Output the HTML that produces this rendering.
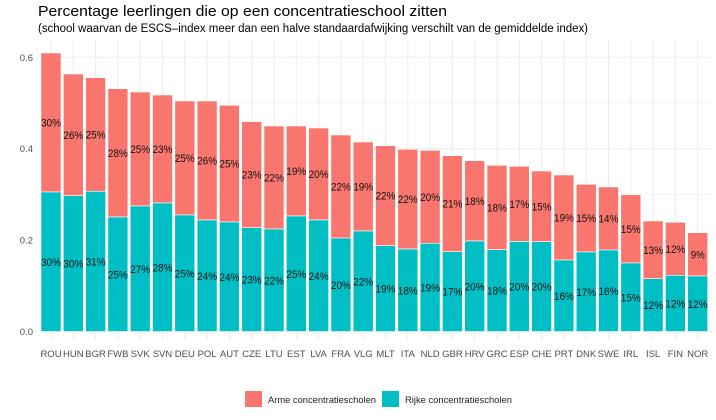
<!DOCTYPE html>
<html><head><meta charset="utf-8"><style>html,body{margin:0;padding:0;background:#fff}svg{display:block}text{font-family:"Liberation Sans",Arial,sans-serif}</style></head>
<body>
<svg id="s" width="716" height="420" xmlns="http://www.w3.org/2000/svg">
<text x="38" y="16" font-size="14.5" fill="#000" textLength="409" lengthAdjust="spacingAndGlyphs">Percentage leerlingen die op een concentratieschool zitten</text>
<text x="38" y="32" font-size="11.5" fill="#000" textLength="550" lengthAdjust="spacingAndGlyphs">(school waarvan de ESCS–index meer dan een halve standaardafwijking verschilt van de gemiddelde index)</text>
<g id="g"></g>
<rect x="245" y="391" width="17" height="16" fill="#F8766D"/>
<text x="268" y="403" font-size="9.5" fill="#222" textLength="108" lengthAdjust="spacingAndGlyphs">Arme concentratiescholen</text>
<rect x="382" y="391" width="17" height="16" fill="#00BFC4"/>
<text x="405" y="403" font-size="9.5" fill="#222" textLength="107" lengthAdjust="spacingAndGlyphs">Rijke concentratiescholen</text>
</svg>
<script>
var d=[["ROU",53,192,30,30],["HUN",74,195.7,26,30],["BGR",77.7,191.3,25,31],["FWB",88.7,217,28,25],["SVK",92,206,25,27],["SVN",95,203,23,28],["DEU",101,215,25,25],["POL",101,220,26,24],["AUT",105.3,222,25,24],["CZE",121.7,227.7,23,23],["LTU",126,229,22,22],["EST",126,216,19,25],["LVA",128,220,20,24],["FRA",135,238,22,20],["VLG",142,231,19,22],["MLT",145.7,245.7,22,19],["ITA",149.3,249,22,18],["NLD",150.3,243.3,20,19],["GBR",155.7,251.7,21,17],["HRV",160.7,241,18,20],["GRC",165.3,249.7,18,18],["ESP",166.3,241.5,17,20],["CHE",171,241.7,15,20],["PRT",175,260,19,16],["DNK",184.3,252,15,17],["SWE",187,250,14,18],["IRL",194.7,263,15,15],["ISL",221,278.7,13,12],["FIN",222.3,275.3,12,12],["NOR",232.7,276,9,12]];
var h='',y0=331.5,k=457;
for(var v=0;v<=0.65;v+=0.1){var y=y0-v*k;var maj=Math.round(v*10)%2==0;h+='<line x1="40" x2="712" y1="'+y+'" y2="'+y+'" stroke="#ebebeb" stroke-width="'+(maj?1:0.5)+'"/>';if(maj)h+='<text x="33" y="'+(y+3.5)+'" font-size="9.5" fill="#4d4d4d" text-anchor="end">'+v.toFixed(1)+'</text>';}
d.forEach(function(r,i){var cx=51+22.3*i;h+='<line x1="'+cx+'" x2="'+cx+'" y1="40" y2="340" stroke="#ebebeb"/>';});
d.forEach(function(r,i){var cx=51+22.3*i,x=cx-10;
h+='<rect x="'+x+'" y="'+r[1]+'" width="20" height="'+(r[2]-r[1])+'" fill="#F8766D" stroke="#fff" stroke-width="0.6"/>';
h+='<rect x="'+x+'" y="'+r[2]+'" width="20" height="'+(y0-r[2])+'" fill="#00BFC4" stroke="#fff" stroke-width="0.6"/>';
h+='<text x="'+cx+'" y="'+((r[1]+r[2])/2+4)+'" font-size="11" text-anchor="middle" fill="#111" textLength="'+(r[3]<10?14:20)+'" lengthAdjust="spacingAndGlyphs">'+r[3]+'%</text>';
h+='<text x="'+cx+'" y="'+((r[2]+y0)/2+4)+'" font-size="11" text-anchor="middle" fill="#111" textLength="20" lengthAdjust="spacingAndGlyphs">'+r[4]+'%</text>';
h+='<text x="'+cx+'" y="357" font-size="9.5" text-anchor="middle" fill="#4d4d4d">'+r[0]+'</text>';});
document.getElementById('g').innerHTML=h;
</script>
</body></html>
